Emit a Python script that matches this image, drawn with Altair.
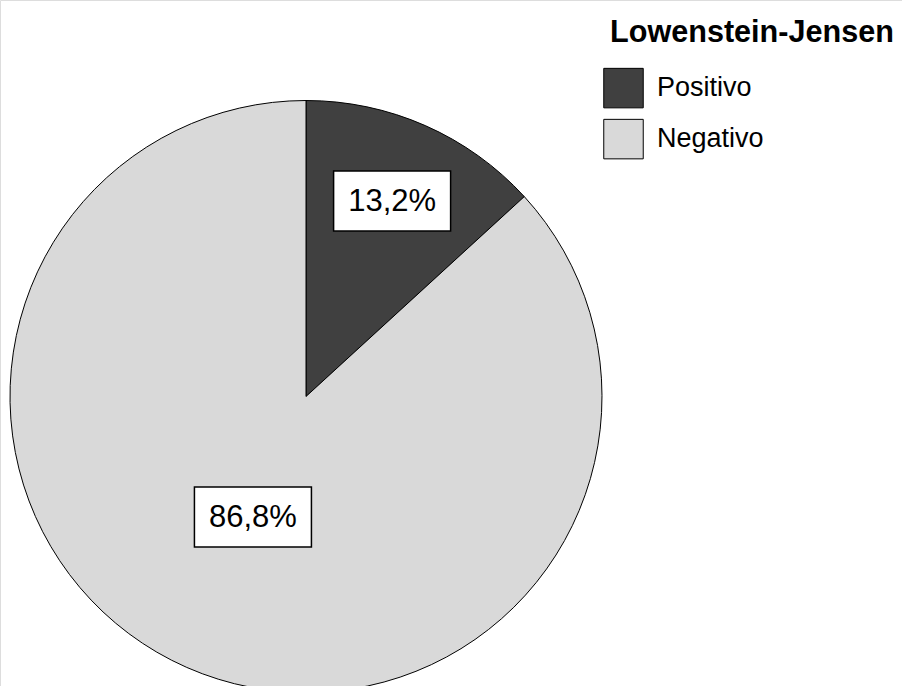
import altair as alt
import pandas as pd

# Resultado del cultivo en medio Lowenstein-Jensen
grupos = ["Positivo", "Negativo"]
porcentajes = [13.2, 86.8]
etiquetas = ["13,2%", "86,8%"]
orden = [1, 2]
colores = ["#404040", "#d9d9d9"]

df = pd.DataFrame({
    "grupo": grupos,
    "valor": porcentajes,
    "etiqueta": etiquetas,
    "orden": orden,
})

CX, CY, R = 306, 396.5, 296
BOX_W, BOX_H = 117, 60

color = alt.Color(
    "grupo:N",
    scale=alt.Scale(domain=grupos, range=colores),
    sort=grupos,
    legend=alt.Legend(
        title="Lowenstein-Jensen",
        orient="none",
        legendX=610,
        legendY=18,
        titleFont="Liberation Sans",
        titleFontSize=30.6,
        titleFontWeight="bold",
        titleColor="black",
        titleLimit=400,
        titlePadding=19,
        labelFont="Liberation Sans",
        labelFontSize=27,
        labelColor="black",
        labelOffset=13,
        labelLimit=300,
        symbolType="square",
        symbolSize=1560,
        symbolStrokeColor="black",
        symbolStrokeWidth=1,
        symbolOffset=-7,
        rowPadding=6,
    ),
)

pie = alt.Chart(df).mark_arc(
    stroke="black", strokeWidth=1, radius=R
).encode(
    theta=alt.Theta("valor:Q", stack=True),
    order=alt.Order("orden:Q"),
    color=color,
    x=alt.value(CX),
    y=alt.value(CY),
)

# Centro de cada etiqueta a partir del ángulo medio de su sector
base = alt.Chart(df).transform_joinaggregate(
    total="sum(valor)"
).transform_window(
    acum="sum(valor)", sort=[alt.SortField("orden")], frame=[None, 0]
).transform_calculate(
    medio="(datum.acum - datum.valor / 2) / datum.total * 2 * PI",
    rl=f"datum.grupo == 'Positivo' ? {R} * 0.722 : {R} * 0.445",
).transform_calculate(
    xc=f"{CX} + datum.rl * sin(datum.medio)",
    yc=f"{CY} - datum.rl * cos(datum.medio)",
).transform_calculate(
    x0=f"datum.xc - {BOX_W / 2}",
    x1=f"datum.xc + {BOX_W / 2}",
    y0=f"datum.yc - {BOX_H / 2}",
    y1=f"datum.yc + {BOX_H / 2}",
)

cajas = base.mark_rect(fill="white", stroke="black", strokeWidth=1.5).encode(
    x=alt.X("x0:Q", scale=None),
    x2="x1:Q",
    y=alt.Y("y0:Q", scale=None),
    y2="y1:Q",
)

textos = base.mark_text(
    font="Liberation Sans", fontSize=31, color="black",
    align="center", baseline="middle", dy=1,
).encode(
    x=alt.X("xc:Q", scale=None),
    y=alt.Y("yc:Q", scale=None),
    text="etiqueta:N",
)

chart = alt.layer(pie, cajas, textos).properties(
    width=902,
    height=686,
    autosize=alt.AutoSizeParams(type="none"),
    padding=0,
).configure_view(stroke="transparent", strokeWidth=0).configure(background="white")

chart.save("out.html", embed_options={"renderer": "svg", "actions": False})
